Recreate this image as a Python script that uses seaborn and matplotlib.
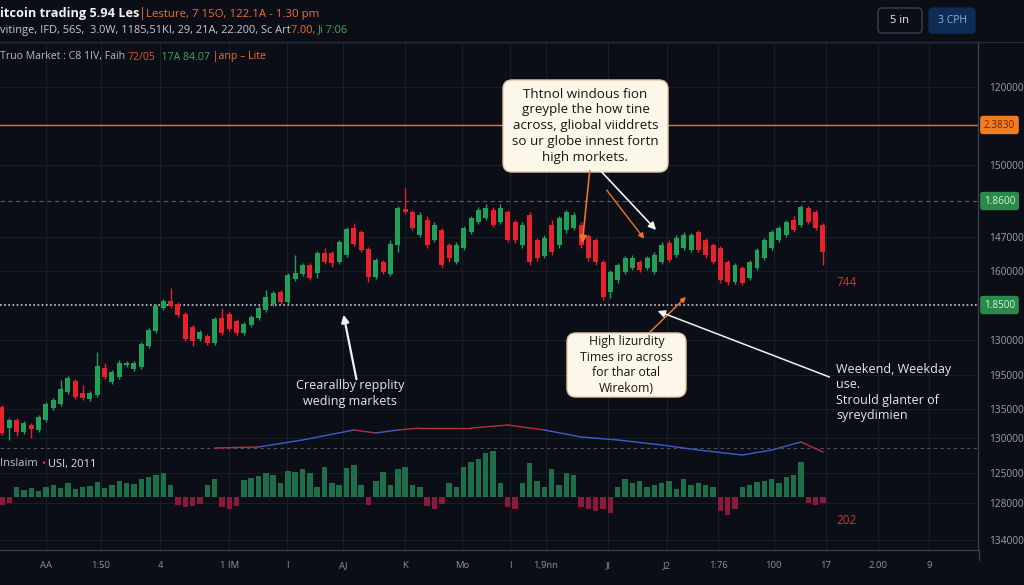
import numpy as np
import pandas as pd
import seaborn as sns
import matplotlib.pyplot as plt
from matplotlib.patches import FancyBboxPatch, FancyArrowPatch
from matplotlib.lines import Line2D
from matplotlib.transforms import IdentityTransform

# Candles (price index)
opens = [41, 20, 28, 16, 23, 18, 28, 40, 44, 56,
         67, 55, 49, 53, 80, 66, 71, 83, 79, 81,
         102, 117, 140, 147, 144, 134, 121, 109, 112, 105,
         130, 134, 127, 115, 123, 130, 138, 144, 156, 146,
         169, 174, 183, 175, 195, 195, 186, 193, 220, 216,
         199, 171, 186, 174, 203, 239, 236, 213, 228, 208,
         218, 203, 186, 200, 216, 226, 230, 238, 226, 236,
         226, 203, 233, 208, 192, 223, 203, 218, 220, 223,
         212, 208, 186, 156, 168, 176, 180, 186, 180, 176,
         186, 205, 193, 200, 198, 216, 208, 203, 200, 186,
         166, 180, 170, 180, 190, 200, 208, 213, 228, 223,
         240, 236, 223]
closes = [15, 28, 16, 25, 19, 31, 44, 48, 59, 70,
          51, 50, 55, 82, 71, 76, 85, 85, 85, 104,
          118, 142, 147, 142, 133, 109, 107, 116, 105, 129,
          115, 119, 115, 124, 131, 140, 151, 155, 146, 173,
          175, 183, 170, 195, 186, 185, 206, 219, 204, 198,
          171, 188, 176, 204, 240, 236, 220, 233, 203, 223,
          183, 190, 203, 220, 230, 238, 240, 223, 240, 208,
          208, 223, 186, 190, 210, 196, 230, 236, 233, 203,
          190, 186, 151, 176, 183, 190, 190, 178, 190, 193,
          203, 188, 210, 213, 213, 198, 193, 186, 168, 166,
          183, 165, 186, 198, 208, 216, 220, 226, 218, 241,
          226, 220, 196]
highs = [43, 30, 30, 27, 25, 33, 46, 50, 68, 72,
         69, 63, 57, 96, 85, 78, 88, 87, 87, 106,
         120, 144, 149, 160, 146, 136, 123, 118, 114, 131,
         140, 136, 129, 126, 133, 142, 158, 157, 158, 175,
         193, 185, 185, 197, 200, 197, 208, 221, 225, 218,
         201, 190, 188, 208, 242, 260, 238, 236, 232, 226,
         220, 205, 206, 222, 232, 241, 244, 241, 244, 238,
         228, 226, 236, 210, 213, 228, 232, 238, 236, 226,
         214, 210, 188, 178, 185, 192, 193, 188, 192, 196,
         206, 208, 213, 216, 215, 218, 210, 205, 202, 188,
         185, 182, 188, 200, 210, 218, 222, 228, 232, 243,
         242, 238, 225]
lows = [13, 8, 12, 14, 10, 16, 26, 38, 42, 54,
        49, 48, 47, 51, 69, 64, 69, 81, 77, 79,
        100, 115, 138, 140, 131, 107, 102, 107, 103, 103,
        113, 117, 113, 113, 121, 128, 136, 142, 144, 144,
        167, 172, 168, 170, 184, 181, 184, 191, 202, 196,
        166, 169, 174, 172, 196, 234, 218, 211, 200, 206,
        180, 186, 184, 198, 214, 224, 228, 221, 224, 206,
        205, 200, 183, 187, 190, 193, 200, 215, 218, 200,
        187, 183, 148, 150, 165, 174, 178, 176, 178, 174,
        184, 186, 191, 198, 196, 196, 190, 184, 165, 163,
        164, 163, 168, 178, 188, 198, 206, 211, 216, 221,
        224, 218, 183]

# lower panel histogram
volume = [-8, -6, 10, 7, 9, 6, 10, 12, 9, 14,
          8, 10, 11, 15, 9, 12, 16, 14, 13, 18,
          20, 22, 24, 12, -8, -10, -9, -7, 12, 18,
          -10, -12, -9, 17, 19, 21, 24, 22, 14, 26,
          25, 28, 24, 10, 30, 14, 12, 29, 32, 12,
          -8, 16, 25, 12, 28, 30, 12, 10, -9, -12,
          -7, 14, 10, 30, 35, 38, 44, 46, 14, -10,
          -12, 14, 34, 16, 10, 28, 12, 24, 22, -10,
          -12, -14, -12, -16, 10, 18, 14, 16, 10, 12,
          14, 16, 8, 18, 12, 14, 12, 10, -14, -18,
          -12, 10, 12, 15, 16, 18, 14, 20, 22, 35,
          -6, -8, -6]

# indicator line
ind_x = [29, 35, 41, 48, 51, 54, 57, 64, 69, 74, 79, 84, 90, 95, 101, 105, 109, 112]
ind_y = [0, 1, 8, 18, 15, 18, 20, 20, 23, 18, 11, 8, 3, -2, -7, -2, 6, -4]
ind_colors = ['r', 'b', 'b', 'r', 'b', 'r', 'r', 'r', 'r', 'b',
              'b', 'b', 'b', 'b', 'b', 'b', 'r']

# right axis
y_tick_pos = [361, 283, 211, 177, 108, 73, 39, 10, -25, -55, -92]
y_tick_labels = ["120000", "150000", "147000", "160000", "130000",
                 "195000", "135000", "130000", "125000", "128000", "134000"]
levels = [323, 247, 143]
level_tags = ["2.3830", "1.8600", "1.8500"]

# bottom axis
x_tick_pos = [6.0, 13.5, 21.6, 31.0, 38.9, 46.5, 55.0, 62.8, 69.3, 74.2,
              82.7, 90.7, 97.7, 105.3, 112.4, 119.5, 126.5]
x_tick_labels = ["AA", "1:50", "4", "1 IM", "I", "AJ", "K", "Mo", "I", "1,9nn",
                 "JI", "J2", "1:76", "100", "17", "2.00", "9"]

sns.set_theme(style="dark")
plt.rcParams['font.family'] = ['Open Sans', 'DejaVu Sans']

BG = '#0b0d17'
GREEN = '#21a05a'
RED = '#e8222c'
ORANGE = '#e8742f'
GRID = '#1a1f2c'
W, H = 1024, 585
PX = IdentityTransform()

fig = plt.figure(figsize=(10.24, 5.85), dpi=100, facecolor=BG)
ax = fig.add_axes([0, (H - 550) / H, 978 / W, 508 / H])
ax.set_facecolor(BG)
ax_vol = fig.add_axes([0, (H - 550) / H, 978 / W, 102 / H])
ax_vol.patch.set_alpha(0)
ax_vol.set_zorder(1)

df = pd.DataFrame({'open': opens, 'close': closes, 'high': highs, 'low': lows})
df['idx'] = np.arange(len(df))
up = df['close'] >= df['open']
colors = np.where(up, GREEN, RED)
body = (df['close'] - df['open']).to_numpy(dtype=float)
body = np.where(np.abs(body) < 1.5, np.where(up, 1.5, -1.5), body)

ax.vlines(df['idx'], df['low'], df['high'], colors=colors, lw=1, zorder=3)
ax.bar(df['idx'], body, bottom=df['open'], width=0.68, color=colors, lw=0, zorder=4)

for i, c in enumerate(ind_colors):
    ax.plot(ind_x[i:i + 2], ind_y[i:i + 2], color='#3d5fc4' if c == 'b' else '#b8303c',
            lw=1, zorder=3)

vol = np.array(volume)
ax_vol.bar(np.arange(len(vol)), vol, width=0.74, lw=0,
           color=np.where(vol > 0, '#1f6e4a', '#8a1a3c'))
ax_vol.set_ylim(-53, 49)
ax_vol.set_xlim(-0.27, 133.15)
ax_vol.axis('off')

# levels
ax.axhline(levels[0], color=ORANGE, lw=1, zorder=2)
ax.axhline(levels[1], color='#596070', lw=0.8, ls=(0, (4, 3)), zorder=2)
ax.axhline(levels[2], color='#c9ccd4', lw=1.2, ls=(0, (1, 1.5)), zorder=2)
ax.axhline(0, color='#4a505e', lw=0.8, ls=(0, (3, 3)), zorder=2)
tag_style = [('#f47c20', '#6b2300'), ('#2a8a4c', '#d2f4d9'), ('#2a8a4c', '#d2f4d9')]
for lv, tag, (fc, tc) in zip(levels, level_tags, tag_style):
    ax.text(1.006, lv, tag, transform=ax.get_yaxis_transform(), ha='left', va='center',
            fontsize=7.2, color=tc, clip_on=False, zorder=10,
            bbox=dict(boxstyle='round,pad=0.3,rounding_size=0.2', fc=fc, ec=fc))

ax.set_xlim(-0.27, 133.15)
ax.set_ylim(-102, 406)
ax.yaxis.tick_right()
ax.set_yticks(y_tick_pos)
ax.set_yticklabels(y_tick_labels)
ax.set_xticks(x_tick_pos)
ax.set_xticklabels(x_tick_labels)
ax.tick_params(axis='y', colors='#9ba1ae', labelsize=7.3, length=0, pad=8)
ax.tick_params(axis='x', colors='#8d93a0', labelsize=6.8, length=3, width=0.6, pad=5)
ax.grid(True, color=GRID, lw=0.7)
ax.spines['left'].set_visible(False)
ax.spines['top'].set_color('#262d40')
ax.spines['right'].set_color('#3a4152')
ax.spines['bottom'].set_color('#3a4152')
for s in ['top', 'right', 'bottom']:
    ax.spines[s].set_linewidth(0.9)

fig.add_artist(Line2D([0, W], [H - 42, H - 42], transform=PX, color='#262d40', lw=0.9))
fig.add_artist(Line2D([979, 979], [H - 560, H - 550], transform=PX, color='#3a4152', lw=0.9))

renderer = fig.canvas.get_renderer()


def chain(x, y, parts):
    for s, c, w, size in parts:
        t = fig.text(x, H - y, s, color=c, fontsize=size, fontweight=w, va='center',
                     ha='left', transform=PX)
        x = t.get_window_extent(renderer=renderer).x1


chain(0, 14, [("itcoin trading 5.94 Les", '#f2f2f4', 'bold', 9.2), ("|", ORANGE, 'normal', 9.2),
              ("Lesture, 7 15O, 122.1A - 1.30 pm", ORANGE, 'normal', 8.2)])
chain(0, 30, [("vitinge, IFD, 56S,  3.0W, 1185,51KI, 29, 21A, 22.200, Sc Art", '#c8cbd2', 'normal', 7.9),
              ("7.00, ", ORANGE, 'normal', 7.9), ("Ji 7:06", '#3aa85a', 'normal', 7.9)])
chain(0, 57, [("Truo Market : C8 1IV, Faih ", '#b8bcc6', 'normal', 7.6), ("72/05", '#e0522f', 'normal', 7.6),
              ("  17A 84.07", '#3aa85a', 'normal', 7.6), (" |anp \u2013 Lite", ORANGE, 'normal', 7.6)])


def box(x0, y0, x1, y1, fc, ec, r=6):
    fig.add_artist(FancyBboxPatch((x0, H - y1), x1 - x0, y1 - y0, transform=PX,
                                  boxstyle=f'round,pad=0,rounding_size={r}', fc=fc, ec=ec, lw=1))


box(878, 8, 922, 33, BG, '#3b4050', 4)
fig.text(900, H - 20.5, "5 in", color='#f0f0f0', fontsize=8, ha='center', va='center', transform=PX)
box(929, 8, 975, 33, '#0f2c55', '#0f2c55', 4)
fig.text(952, H - 20.5, "3 CPH", color='#8db3ea', fontsize=7.5, ha='center', va='center', transform=PX)

box(503, 80, 668, 172, '#fdf7ea', '#e2c9a0', 9)
fig.text(585.5, H - 126, "Thtnol windous fion\ngreyple the how tine\nacross, gliobal viiddrets\n"
         "so ur globe innest fortn\nhigh morkets.", color='#151515', fontsize=9.6,
         ha='center', va='center', linespacing=1.3, transform=PX)
box(567, 333, 686, 397, '#fdf7ea', '#e2c9a0', 9)
fig.text(626.5, H - 365, "High lizurdity\nTimes iro across\nfor thar otal\nWirekom)",
         color='#151515', fontsize=8.8, ha='center', va='center', linespacing=1.25, transform=PX)

fig.text(350, H - 393, "Crearallby repplity\nweding markets", color='#e6e8ec', fontsize=9,
         ha='center', va='center', linespacing=1.3, transform=PX)
fig.text(836, H - 363, "Weekend, Weekday\nuse.\nStrould glanter of\nsyreydimien", color='#e6e8ec',
         fontsize=9, ha='left', va='top', linespacing=1.25, transform=PX)
fig.text(836, H - 282, "744", color='#d8322f', fontsize=8.5, ha='left', va='center', transform=PX)
fig.text(836, H - 520, "202", color='#d8322f', fontsize=8.5, ha='left', va='center', transform=PX)
chain(0, 464, [("Inslaim ", '#c0c4cc', 'normal', 8), ("\u2022", '#d8322f', 'normal', 8),
               (" USI, 2011", '#e0e2e8', 'normal', 8)])


def arrow(a, b, color, lw=1.3, style='-|>', ms=11):
    fig.add_artist(FancyArrowPatch((a[0], H - a[1]), (b[0], H - b[1]), transform=PX,
                                   arrowstyle=style, mutation_scale=ms, color=color, lw=lw))


arrow((357, 382), (343, 312), '#f2f2f2', 1.6)
arrow((590, 168), (582, 246), ORANGE, 1.2)
arrow((598, 168), (658, 232), '#f2f2f2', 1.2)
arrow((605, 188), (646, 241), ORANGE, 1.0, ms=8)
arrow((648, 334), (688, 295), ORANGE, 1.1, ms=7)
arrow((832, 378), (655, 310), '#f2f2f2', 1.1)

fig.savefig('out.png', dpi=100, facecolor=BG)
